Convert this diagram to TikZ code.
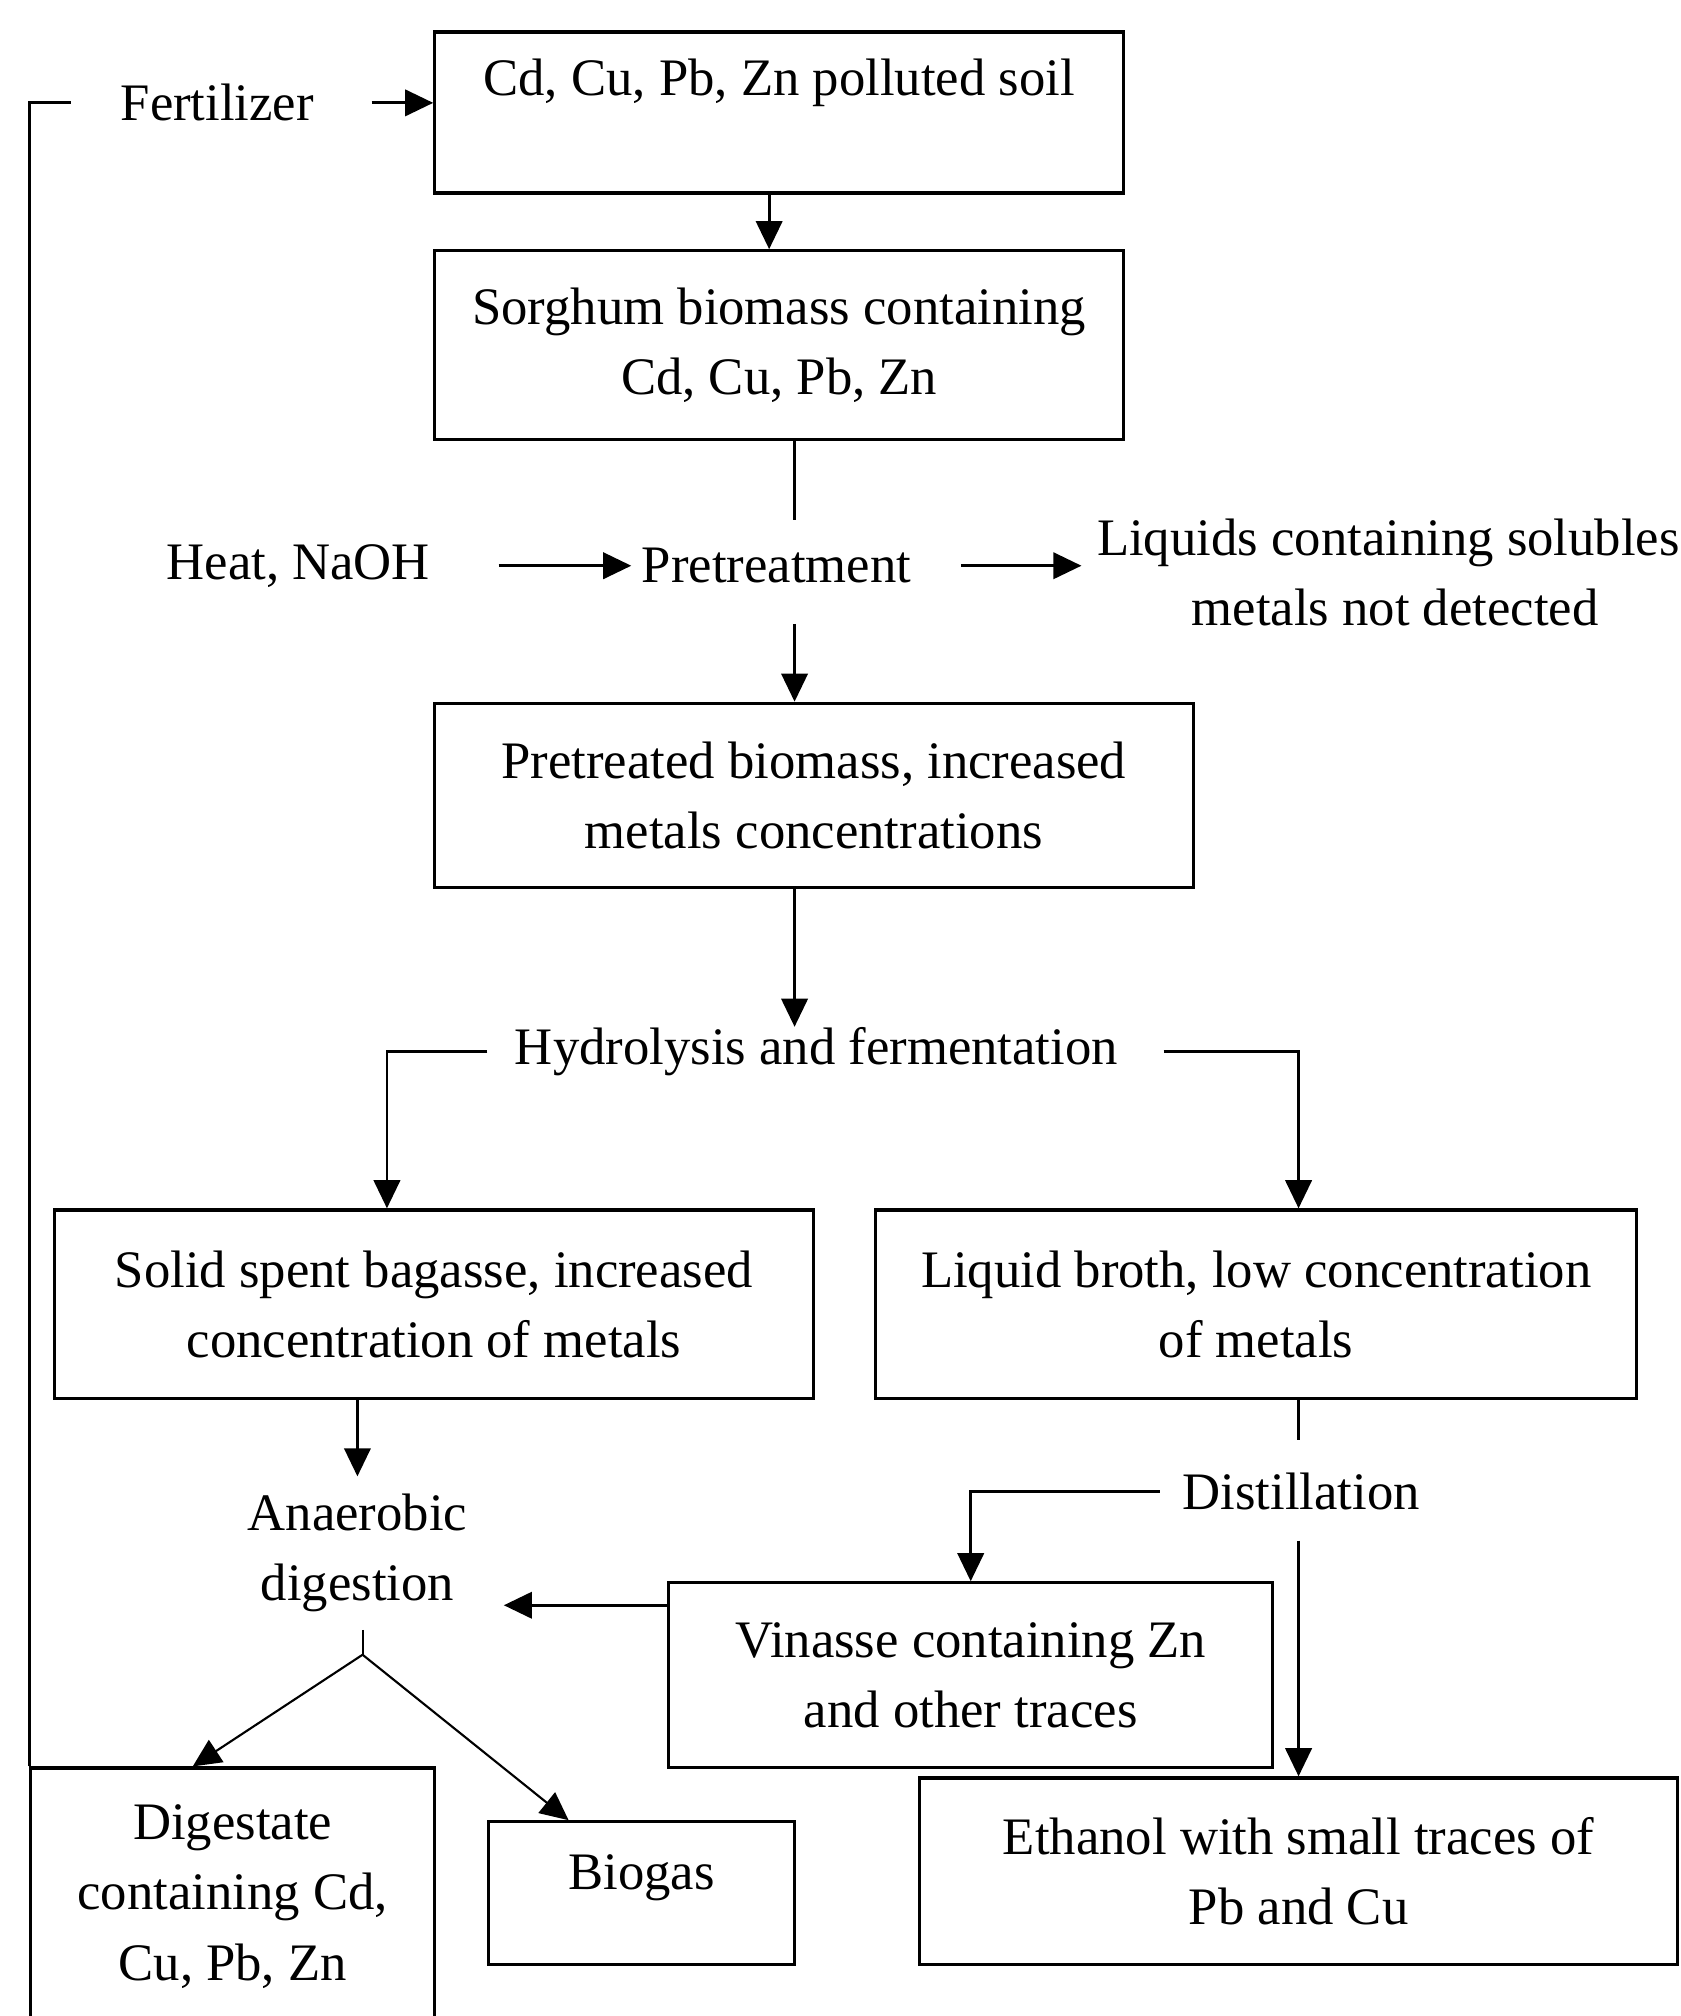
\documentclass[tikz,border=0pt]{standalone}
\usepackage{fontspec}
\setmainfont{Liberation Serif}
\usetikzlibrary{arrows.meta,calc}

\begin{document}
\begin{tikzpicture}[
  x=0.01286cm, y=-0.01286cm,
  font=\fontsize{15}{20}\selectfont,
  >={Triangle[length=8pt,width=7.5pt]},
  box/.style={draw, line width=0.9pt, align=center, inner sep=0pt},
  lab/.style={align=center, inner sep=0pt},
  line/.style={line width=0.8pt},
  arr/.style={->, line width=0.8pt},
  thinarr/.style={->, line width=0.6pt}
]
\clip (0,0) rectangle (1307,1568);

% boxes
\node[box, minimum width=6.89cm, minimum height=1.61cm] (soil) at (606,87.5) {Cd, Cu, Pb, Zn polluted soil\\ \mbox{}};
\node[box, minimum width=6.89cm, minimum height=1.89cm] (sorghum) at (606,268.5) {Sorghum biomass containing\\Cd, Cu, Pb, Zn};
\node[box, minimum width=7.59cm, minimum height=1.84cm] (pretbox) at (633,618.5) {Pretreated biomass, increased\\metals concentrations};
\node[box, minimum width=7.60cm, minimum height=1.89cm] (solid) at (337.5,1014.5) {Solid spent bagasse, increased\\concentration of metals};
\node[box, minimum width=7.61cm, minimum height=1.89cm] (broth) at (977,1014.5) {Liquid broth, low concentration\\of metals};
\node[box, minimum width=6.04cm, minimum height=1.85cm] (vinasse) at (755,1303) {Vinasse containing Zn\\and other traces};
\node[box, minimum width=4.04cm, minimum height=2.57cm] (dig) at (181,1475) {Digestate\\containing Cd,\\Cu, Pb, Zn};
\node[box, minimum width=3.06cm, minimum height=1.43cm, text depth=0.43cm] (biogas) at (499,1472.5) {Biogas};
\node[box, minimum width=7.59cm, minimum height=1.87cm] (ethanol) at (1010,1455.5) {Ethanol with small traces of\\Pb and Cu};

% free labels
\node[lab] (fert) at (169,80) {Fertilizer};
\node[lab] (heat) at (232,440) {Heat, NaOH};
\node[lab] (pretreat) at (604,440) {Pretreatment};
\node[lab] (liquids) at (1085,445) {Liquids containing solubles,\\metals not detected};
\node[lab] (hydro) at (635,818) {Hydrolysis and fermentation};
\node[lab] (anaer) at (278,1208) {Anaerobic\\digestion};
\node[lab] (distil) at (1012,1160) {Distillation};

\coordinate (spine) at (618,0);
\coordinate (spine2) at (1010,0);
\coordinate (fork) at (282,1287);

% connectors
\draw[line] (dig.north west) |- ([xshift=-0.49cm]fert.west);
\draw[arr, shorten <=0.57cm] (fert.east) -- (fert.east -| soil.west);
\draw[arr] ([xshift=-0.1cm]soil.south) -- ([xshift=-0.1cm]sorghum.north);
\draw[line, shorten >=0.28cm] (sorghum.south -| spine) -- (pretreat.north -| spine);
\draw[arr, shorten <=0.68cm, shorten >=0.1cm] (heat.east) -- (pretreat.west);
\draw[arr, shorten <=0.49cm, shorten >=0.15cm] (pretreat.east) -- (pretreat.east -| liquids.west);
\draw[arr, shorten <=0.4cm] (pretreat.south -| spine) -- (pretbox.north -| spine);
\draw[arr] (pretbox.south -| spine) -- (hydro.north -| spine);
\draw[arr, shorten <=0.27cm] (hydro.west) -| ([xshift=-0.47cm]solid.north);
\draw[arr, shorten <=0.45cm] (hydro.east) -| (broth.north -| spine2);
\draw[arr, shorten >=0.17cm] (solid.south -| anaer) -- (anaer.north);
\draw[line, shorten >=0.32cm] (broth.south -| spine2) -- (distil.north -| spine2);
\draw[arr, shorten <=0.22cm] (distil.west) -| (vinasse.north);
\draw[arr, shorten <=0.3cm] (distil.south -| spine2) -- (ethanol.north);
\draw[arr, shorten >=0.36cm] ([yshift=-0.24cm]vinasse.north west) -- ([yshift=-0.24cm]vinasse.north west -| anaer.east);
\draw[line, line width=0.6pt, shorten <=0.17cm] (anaer.south -| fork) -- (fork);
\draw[thinarr] (fork) -- ([xshift=-0.4cm]dig.north);
\draw[thinarr] (fork) -- ([xshift=-0.73cm]biogas.north);
\end{tikzpicture}
\end{document}
